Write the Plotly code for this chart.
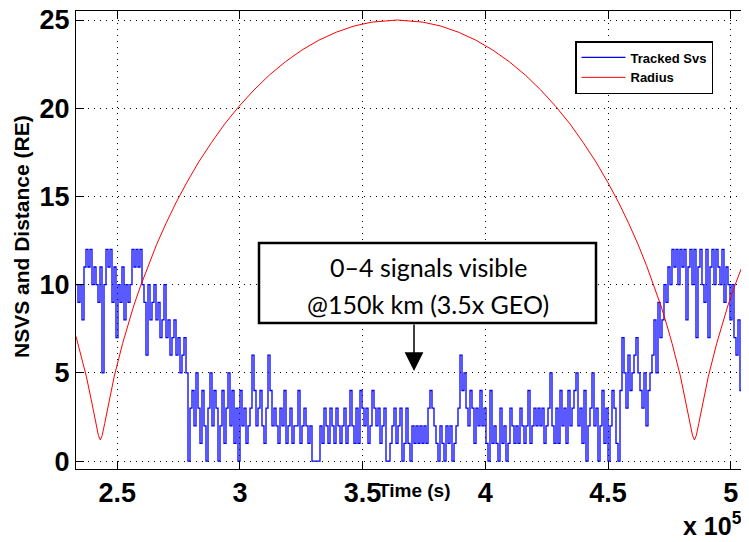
import plotly.graph_objects as go

# ---------------- data ----------------
# Tracked SVs: uniformly sampled series (start time, sample interval in s)
svs_t0 = 233200
svs_dt = 815
tracked_svs = [
    10, 9, 10, 8, 11, 12, 11, 12, 10, 11,
    10, 9, 11, 5, 10, 12, 11, 12, 9, 11,
    7, 10, 9, 11, 8, 10, 9, 10, 12, 11,
    12, 11, 12, 10, 9, 6, 10, 8, 9, 10,
    8, 9, 7, 8, 10, 7, 8, 6, 7, 8,
    6, 7, 5, 6, 7, 5, 0, 3, 4, 2,
    5, 3, 1, 4, 2, 0, 3, 5, 2, 4,
    3, 0, 2, 4, 1, 3, 5, 2, 4, 1,
    3, 0, 4, 2, 3, 1, 2, 3, 6, 4,
    2, 3, 4, 2, 1, 3, 6, 4, 2, 3,
    2, 1, 3, 2, 4, 1, 2, 3, 1, 2,
    2, 4, 1, 2, 3, 2, 1, 2, 0, 0,
    0, 0, 2, 1, 3, 2, 1, 3, 2, 1,
    3, 2, 1, 2, 3, 1, 2, 4, 2, 1,
    3, 1, 4, 3, 2, 3, 1, 2, 4, 3,
    2, 3, 1, 2, 3, 0, 0, 1, 2, 3,
    1, 2, 3, 0, 1, 3, 1, 0, 2, 1,
    2, 1, 2, 1, 2, 1, 3, 4, 3, 2,
    1, 0, 2, 1, 0, 2, 1, 2, 0, 1,
    2, 3, 6, 4, 5, 3, 2, 4, 3, 1,
    3, 2, 4, 2, 3, 1, 0, 4, 1, 2,
    1, 0, 3, 1, 2, 0, 1, 3, 2, 1,
    2, 1, 3, 2, 1, 2, 4, 1, 2, 3,
    2, 3, 2, 3, 1, 2, 3, 5, 2, 1,
    3, 1, 4, 2, 3, 1, 4, 2, 3, 4,
    5, 2, 3, 1, 4, 0, 2, 3, 5, 2,
    3, 0, 2, 4, 1, 3, 0, 2, 4, 3,
    1, 0, 4, 7, 5, 3, 6, 4, 5, 6,
    7, 5, 4, 3, 5, 2, 4, 5, 6, 8,
    5, 9, 7, 8, 10, 9, 11, 10, 12, 11,
    12, 10, 12, 11, 12, 8, 11, 12, 10, 12,
    7, 11, 12, 10, 9, 12, 7, 11, 12, 10,
    12, 11, 10, 12, 9, 11, 10, 8, 10, 7,
    6, 8, 4, 6, 8, 9, 7,
]

# Radius (RE) vs time (s)
radius_t = [
    233200, 234000, 237400, 239700, 241300, 242350, 243100, 243850, 244900,
    246460, 248800, 252200, 254300, 256700, 259500, 262600, 266000, 269800,
    273900, 278400, 283200, 288400, 293800, 299600, 305700, 312000, 318500,
    325300, 332200, 339300, 346500, 353800, 364150, 374500, 381800, 389000,
    396100, 403000, 409800, 416300, 422600, 428700, 434500, 439900, 445100,
    449900, 454400, 458500, 462300, 465700, 468800, 471600, 474000, 476100,
    479500, 481840, 483400, 484450, 485200, 485950, 487000, 488560, 490900,
    494300, 496400, 498800, 501600, 504700, 507500,
]
radius_re = [
    7.07, 6.67, 4.81, 3.28, 2.14, 1.44, 1.20, 1.44, 2.14,
    3.28, 4.81, 6.67, 7.70, 8.79, 9.92, 11.08, 12.26, 13.45,
    14.63, 15.80, 16.95, 18.05, 19.11, 20.10, 21.03, 21.88, 22.63,
    23.30, 23.86, 24.31, 24.66, 24.88, 25.00, 24.88, 24.66, 24.31,
    23.86, 23.30, 22.63, 21.88, 21.03, 20.10, 19.11, 18.05, 16.95,
    15.80, 14.63, 13.45, 12.26, 11.08, 9.92, 8.79, 7.70, 6.67,
    4.81, 3.28, 2.14, 1.44, 1.20, 1.44, 2.14, 3.28, 4.81,
    6.67, 7.70, 8.79, 9.92, 11.08, 12.06,
]

x_tickvals = [250000, 300000, 350000, 400000, 450000, 500000]
x_ticktext = ["2.5", "3", "3.5", "4", "4.5", "5"]
y_tickvals = [0, 5, 10, 15, 20, 25]

# ---------------- layout geometry ----------------
# The page body adds an 8px offset; size the figure to fill the 749x542 window.
OFF = 8
SW, SH = 749, 542                    # screen size
W, H = SW - OFF, SH - OFF            # figure size
# plot area in screen pixels
PL, PR, PT, PB = 76, 749, 11, 469
ML, MR, MT, MB = PL - OFF, SW - PR, PT - OFF, SH - PB
PW, PH = PR - PL, PB - PT


def px(xs):
    """screen x -> paper x"""
    return (xs - PL) / PW


def py(ys):
    """screen y -> paper y"""
    return (PB - ys) / PH


svs_t = [svs_t0 + svs_dt * i for i in range(len(tracked_svs))]

BOLD = dict(family="Liberation Sans, Arial, sans-serif", color="black", weight="bold")

fig = go.Figure()
fig.add_trace(go.Scatter(x=svs_t, y=tracked_svs, mode="lines", name="Tracked Svs",
                         line=dict(color="#0000ff", width=1.3, shape="hv")))
fig.add_trace(go.Scatter(x=radius_t, y=radius_re, mode="lines", name="Radius",
                         line=dict(color="#ff0000", width=1)))

axis_common = dict(
    showline=True, linecolor="black", linewidth=1,
    ticks="inside", ticklen=8, tickcolor="black", tickwidth=1,
    showgrid=True, gridcolor="black", gridwidth=1, griddash="1px,5px",
    zeroline=False, automargin=False, ticklabeloverflow="allow",
)

fig.update_xaxes(range=[233200, 507450], tickvals=x_tickvals, ticktext=x_ticktext,
                 mirror="ticks", tickfont=dict(size=27, **BOLD), **axis_common)
fig.update_yaxes(range=[-0.45, 25.51], tickvals=y_tickvals, mirror=False,
                 tickfont=dict(size=27, **BOLD), **axis_common)

annotations = [
    dict(text="Time (s)", x=px(414), y=py(490), xref="paper", yref="paper",
         showarrow=False, font=dict(size=19, **BOLD), xanchor="center", yanchor="middle"),
    dict(text="NSVS and Distance (RE)", x=px(21), y=py(237), xref="paper", yref="paper",
         showarrow=False, textangle=-90, font=dict(size=21, **BOLD),
         xanchor="center", yanchor="middle"),
    dict(text="x 10<sup>5</sup>", x=px(681), y=py(524), xref="paper", yref="paper",
         showarrow=False, font=dict(size=25, **BOLD), xanchor="left", yanchor="middle"),
    dict(text="0\u20134 signals visible", x=px(428), y=py(267), xref="paper", yref="paper",
         showarrow=False, font=dict(family="Lato, Open Sans, sans-serif", size=25, color="black"),
         xanchor="center", yanchor="middle"),
    dict(text="@150k km (3.5x GEO)", x=px(428), y=py(304), xref="paper", yref="paper",
         showarrow=False, font=dict(family="Lato, Open Sans, sans-serif", size=25, color="black"),
         xanchor="center", yanchor="middle"),
    dict(text="", x=px(414), y=py(371), xref="paper", yref="paper",
         showarrow=True, ax=0, ay=-48, arrowhead=2, arrowsize=2.5, arrowwidth=1.5,
         arrowcolor="black", standoff=0),
]

shapes = [
    dict(type="rect", xref="paper", yref="paper", x0=px(259), x1=px(596),
         y0=py(323), y1=py(243), line=dict(color="black", width=2.5),
         fillcolor="white", layer="above"),
]

fig.update_layout(
    width=W, height=H, margin=dict(l=ML, r=MR, t=MT, b=MB, autoexpand=False),
    plot_bgcolor="white", paper_bgcolor="white",
    showlegend=True,
    legend=dict(x=px(575), y=py(41), xanchor="left", yanchor="top",
                bgcolor="white", bordercolor="black", borderwidth=1.5,
                font=dict(size=13, **BOLD), tracegroupgap=0, itemwidth=44),
    annotations=annotations, shapes=shapes,
)

fig.write_html("out.html")
